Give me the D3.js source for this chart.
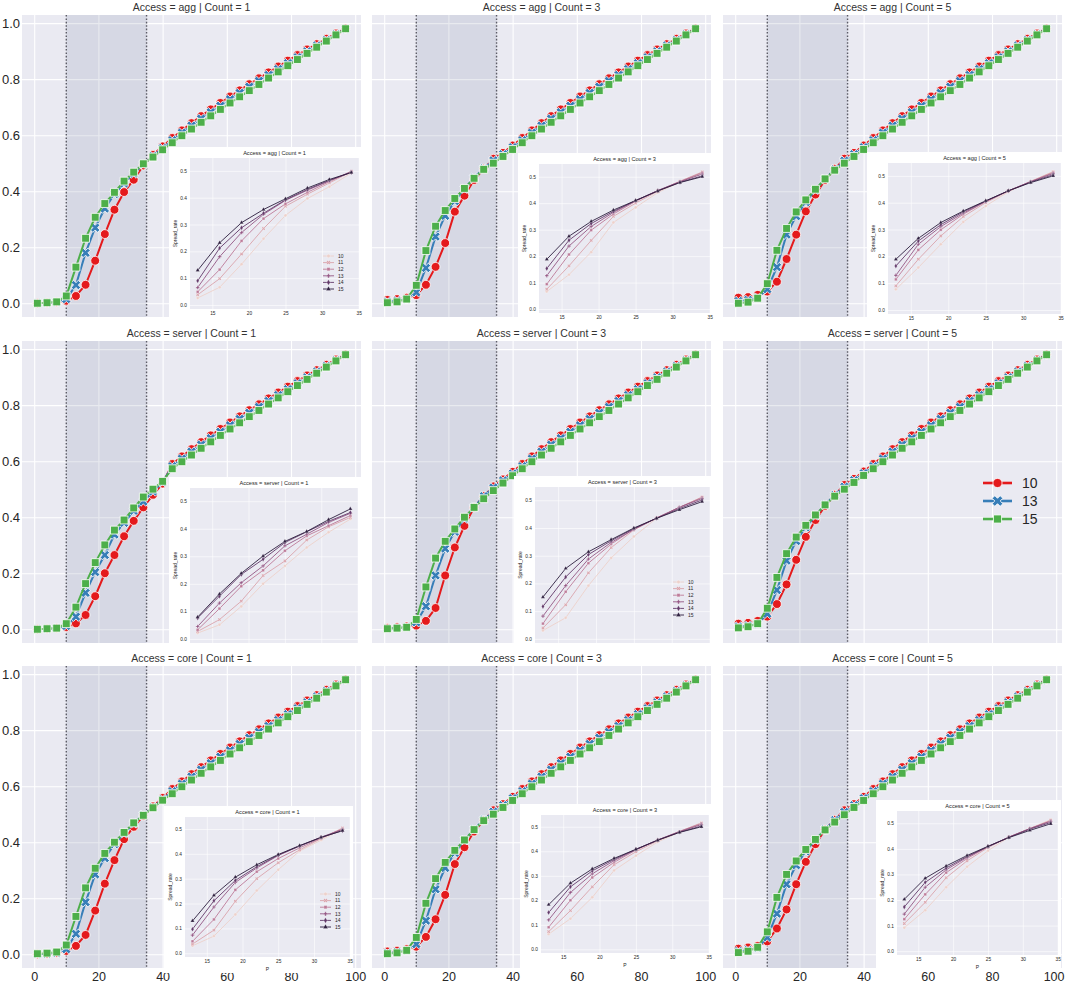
<!DOCTYPE html>
<html>
<head>
<meta charset="utf-8">
<style>
  body { margin: 0; background: #fff; }
  svg text { font-family: "Liberation Sans", Arial, sans-serif; fill: #262626; }
</style>
</head>
<body>
<div id="chart"></div>
<script src="https://d3js.org/d3.v7.min.js"></script>
<script>
// ---- data ----
var accessLevels = ['agg', 'server', 'core'];
var countLevels = [1, 3, 5];
var hueMain = [10, 13, 15];
var hueInset = [10, 11, 12, 13, 14, 15];

var xValues = [1,4,7,10,13,16,19,22,25,28,31,34,37,40,43,46,49,52,55,58,61,64,67,70,73,76,79,82,85,88,91,94,97];
var insetX = [13,16,19,22,25,28,31,34];

var xTicks = [0, 20, 40, 60, 80, 100];
var yTicks = [0, 0.2, 0.4, 0.6, 0.8, 1.0];
var insetXTicks = [15, 20, 25, 30, 35];
var insetYTicks = [0, 0.1, 0.2, 0.3, 0.4, 0.5];
var bandStart = 10, bandEnd = 35;

// x = 1 .. 40 for hue 10, 13, 15
var headAgg1    = [[0.000,0.002,0.004,0.009,0.026,0.066,0.152,0.247,0.334,0.397,0.441,0.492,0.530,0.560],
                   [0.000,0.002,0.004,0.015,0.065,0.180,0.270,0.338,0.390,0.428,0.463,0.496,0.526,0.554],
                   [0.000,0.002,0.005,0.026,0.129,0.232,0.307,0.356,0.396,0.436,0.468,0.498,0.522,0.548]];
var headAgg3    = [[0.012,0.015,0.020,0.029,0.066,0.130,0.215,0.327,0.384,0.440,0.480,0.516,0.537,0.563],
                   [0.006,0.009,0.015,0.039,0.126,0.238,0.312,0.365,0.409,0.448,0.481,0.510,0.532,0.557],
                   [0.002,0.005,0.015,0.064,0.188,0.275,0.331,0.374,0.410,0.446,0.478,0.500,0.524,0.549]];
var headAgg5    = [[0.020,0.022,0.030,0.042,0.077,0.158,0.245,0.328,0.388,0.440,0.480,0.516,0.537,0.563],
                   [0.008,0.012,0.020,0.050,0.129,0.245,0.311,0.361,0.405,0.444,0.478,0.509,0.532,0.557],
                   [0.000,0.004,0.018,0.070,0.189,0.267,0.326,0.369,0.407,0.444,0.475,0.500,0.524,0.549]];
var headServer1 = [[0.000,0.002,0.004,0.008,0.021,0.051,0.118,0.200,0.265,0.332,0.387,0.435,0.480,0.520],
                   [0.000,0.002,0.004,0.012,0.045,0.130,0.204,0.265,0.338,0.380,0.423,0.456,0.492,0.525],
                   [0.000,0.002,0.004,0.020,0.079,0.163,0.238,0.301,0.354,0.390,0.433,0.472,0.500,0.528]];
var headServer3 = [[0.005,0.007,0.010,0.013,0.030,0.076,0.192,0.292,0.369,0.435,0.475,0.510,0.535,0.562],
                   [0.003,0.005,0.008,0.025,0.082,0.192,0.288,0.348,0.395,0.436,0.475,0.506,0.531,0.556],
                   [0.002,0.004,0.007,0.035,0.151,0.254,0.314,0.358,0.400,0.435,0.466,0.495,0.522,0.548]];
var headServer5 = [[0.020,0.023,0.030,0.045,0.090,0.160,0.248,0.330,0.390,0.440,0.480,0.515,0.537,0.563],
                   [0.010,0.013,0.020,0.055,0.140,0.245,0.315,0.364,0.406,0.445,0.479,0.509,0.532,0.557],
                   [0.005,0.009,0.020,0.075,0.185,0.270,0.329,0.371,0.408,0.444,0.475,0.500,0.524,0.549]];
var headCore1   = [[0.000,0.002,0.005,0.012,0.030,0.069,0.156,0.252,0.336,0.411,0.455,0.494,0.528,0.558],
                   [0.000,0.002,0.005,0.018,0.073,0.186,0.285,0.343,0.393,0.432,0.467,0.498,0.525,0.553],
                   [0.002,0.004,0.008,0.033,0.135,0.237,0.307,0.360,0.400,0.435,0.469,0.496,0.523,0.550]];
var headCore3   = [[0.010,0.013,0.018,0.027,0.062,0.125,0.212,0.322,0.382,0.438,0.478,0.514,0.536,0.562],
                   [0.005,0.008,0.014,0.036,0.120,0.232,0.308,0.362,0.407,0.446,0.480,0.509,0.532,0.557],
                   [0.002,0.005,0.014,0.060,0.182,0.270,0.328,0.371,0.408,0.445,0.477,0.500,0.524,0.549]];
var headCore5   = [[0.020,0.024,0.030,0.046,0.092,0.160,0.250,0.330,0.393,0.445,0.480,0.514,0.536,0.562],
                   [0.011,0.015,0.023,0.060,0.145,0.250,0.318,0.367,0.408,0.446,0.479,0.508,0.532,0.557],
                   [0.006,0.011,0.025,0.080,0.203,0.285,0.333,0.374,0.410,0.444,0.472,0.498,0.524,0.549]];

// x = 43 .. 97, the same in every panel
var tail10 = [0.590,0.617,0.643,0.668,0.692,0.715,0.738,0.760,0.782,0.803,0.824,0.845,0.866,0.886,0.906,0.925,0.944,0.963,0.981];
var tail13 = [0.582,0.609,0.634,0.659,0.682,0.705,0.728,0.751,0.773,0.794,0.815,0.836,0.857,0.878,0.899,0.920,0.940,0.960,0.980];
var tail15 = [0.573,0.598,0.622,0.646,0.669,0.692,0.715,0.737,0.759,0.781,0.804,0.826,0.848,0.870,0.892,0.914,0.936,0.958,0.980];

// inset: hue 10..15 at x = 13..34
var insetAgg1 = [[0.026,0.066,0.152,0.247,0.334,0.397,0.441,0.492],
                 [0.038,0.098,0.190,0.285,0.368,0.413,0.455,0.497],
                 [0.049,0.132,0.239,0.322,0.377,0.420,0.460,0.499],
                 [0.065,0.180,0.270,0.338,0.390,0.428,0.463,0.496],
                 [0.090,0.212,0.288,0.342,0.392,0.431,0.465,0.494],
                 [0.129,0.232,0.307,0.356,0.396,0.436,0.468,0.494]];
var insetAgg3 = [[0.066,0.130,0.215,0.327,0.384,0.440,0.480,0.516],
                 [0.075,0.163,0.259,0.350,0.400,0.445,0.483,0.518],
                 [0.094,0.206,0.298,0.359,0.407,0.447,0.482,0.515],
                 [0.126,0.238,0.312,0.365,0.409,0.448,0.481,0.510],
                 [0.153,0.260,0.323,0.369,0.410,0.447,0.479,0.503],
                 [0.188,0.275,0.331,0.374,0.410,0.446,0.478,0.500]];
var insetAgg5 = [[0.077,0.158,0.245,0.328,0.388,0.440,0.480,0.516],
                 [0.090,0.189,0.276,0.348,0.400,0.443,0.479,0.515],
                 [0.114,0.224,0.299,0.357,0.404,0.444,0.479,0.512],
                 [0.129,0.245,0.311,0.361,0.405,0.444,0.478,0.509],
                 [0.164,0.257,0.318,0.366,0.406,0.444,0.477,0.504],
                 [0.189,0.267,0.326,0.369,0.407,0.444,0.475,0.500]];
var insetServer1 = [[0.021,0.051,0.118,0.200,0.265,0.332,0.387,0.435],
                    [0.027,0.070,0.137,0.230,0.283,0.359,0.407,0.441],
                    [0.033,0.110,0.191,0.249,0.320,0.374,0.411,0.448],
                    [0.045,0.130,0.204,0.265,0.338,0.380,0.423,0.456],
                    [0.076,0.155,0.234,0.289,0.350,0.389,0.427,0.459],
                    [0.079,0.163,0.238,0.301,0.354,0.390,0.433,0.472]];
var insetServer3 = [[0.030,0.076,0.192,0.292,0.369,0.435,0.475,0.510],
                    [0.039,0.123,0.238,0.329,0.393,0.436,0.474,0.512],
                    [0.055,0.170,0.273,0.342,0.396,0.436,0.474,0.510],
                    [0.082,0.192,0.288,0.348,0.395,0.436,0.475,0.506],
                    [0.117,0.223,0.304,0.354,0.398,0.435,0.470,0.501],
                    [0.151,0.254,0.314,0.358,0.400,0.435,0.466,0.495]];
var insetCore1 = [[0.030,0.069,0.156,0.252,0.336,0.411,0.455,0.500],
                  [0.037,0.093,0.209,0.300,0.364,0.416,0.461,0.504],
                  [0.048,0.136,0.255,0.328,0.381,0.424,0.463,0.500],
                  [0.073,0.186,0.285,0.343,0.393,0.432,0.467,0.498],
                  [0.097,0.211,0.293,0.348,0.395,0.431,0.466,0.493],
                  [0.130,0.233,0.306,0.356,0.397,0.433,0.466,0.493]];
var insetCore3 = [[0.062,0.125,0.212,0.322,0.382,0.438,0.478,0.514],
                  [0.072,0.158,0.255,0.345,0.398,0.443,0.481,0.516],
                  [0.090,0.200,0.293,0.355,0.405,0.446,0.481,0.513],
                  [0.120,0.232,0.308,0.362,0.407,0.446,0.480,0.509],
                  [0.150,0.255,0.320,0.367,0.408,0.446,0.478,0.503],
                  [0.182,0.270,0.328,0.371,0.408,0.445,0.477,0.500]];
var insetCore5 = [[0.092,0.160,0.250,0.330,0.393,0.445,0.480,0.514],
                  [0.108,0.191,0.287,0.353,0.405,0.446,0.479,0.512],
                  [0.125,0.222,0.307,0.362,0.408,0.446,0.479,0.509],
                  [0.145,0.250,0.318,0.367,0.408,0.446,0.479,0.508],
                  [0.173,0.269,0.325,0.370,0.409,0.445,0.477,0.503],
                  [0.203,0.285,0.333,0.374,0.410,0.444,0.472,0.498]];

var mainHeads = [headAgg1, headAgg3, headAgg5, headServer1, headServer3, headServer5, headCore1, headCore3, headCore5];
var mainTails = [tail10, tail13, tail15];
var insetData = [insetAgg1, insetAgg3, insetAgg5, insetServer1, insetServer3, null, insetCore1, insetCore3, insetCore5];

// ---- layout ----
var W = 1065, H = 984;
var colLeft = [22, 372, 723], panelW = 339;
var rowTop = [15, 341, 666], panelH = 302;
var xDomain = [-3.8, 101.8], yDomain = [-0.049, 1.029];
var insetXDomain = [11.95, 35.05], insetYDomain = [-0.015, 0.548];
// gray plot area of each inset [x0, y0, x1, y1]
var insetBoxes = [[190,158,359,309], [539,164,710,313], [888,163,1061,314],
                  [190,488,358,643], [535,487,710,643], null,
                  [185,817,350,957], [541,815,709,953], [897,811,1058,955]];
var insetLegendPos = [[323,256], null, null, null, [673,582], null, [320,894], null, null];

var mainColors = ['#e41a1c', '#377eb8', '#4daf4a'];
var insetColors = ['#edd1cb', '#daa4ac', '#bd7a98', '#945785', '#633a6a', '#2d1e3e'];
var mainSymbols = [d3.symbolCircle, d3.symbolCross, d3.symbolSquare];
var mainRotate = [0, 45, 0];
var mainSizes = [62, 56, 62];
var insetSymbols = [d3.symbolCircle, d3.symbolCross, d3.symbolSquare, d3.symbolCross, d3.symbolDiamond, d3.symbolTriangle];
var insetRotate = [0, 45, 0, 0, 0, 0];

var svg = d3.select('#chart').append('svg')
  .attr('width', W)
  .attr('height', H);
svg.append('rect').attr('width', W).attr('height', H).attr('fill', '#fff');

function drawPanel(r, c) {
  var idx = r * 3 + c;
  var x0 = colLeft[c], y0 = rowTop[r];
  var x = d3.scaleLinear().domain(xDomain).range([x0, x0 + panelW]);
  var y = d3.scaleLinear().domain(yDomain).range([y0 + panelH, y0]);
  var g = svg.append('g');

  g.append('rect')
    .attr('x', x0).attr('y', y0)
    .attr('width', panelW).attr('height', panelH)
    .attr('fill', '#eaeaf2');

  // grid
  var gx = g.append('g').attr('transform', 'translate(0,' + (y0 + panelH) + ')')
    .call(d3.axisBottom(x).tickValues(xTicks).tickSize(-panelH).tickFormat(''));
  var gy = g.append('g').attr('transform', 'translate(' + x0 + ',0)')
    .call(d3.axisLeft(y).tickValues(yTicks).tickSize(-panelW).tickFormat(''));
  [gx, gy].forEach(function(a) {
    a.select('.domain').remove();
    a.selectAll('line').attr('stroke', '#fff').attr('stroke-width', 1.1);
  });

  // shaded band + dotted edges
  g.append('rect')
    .attr('x', x(bandStart)).attr('y', y0)
    .attr('width', x(bandEnd) - x(bandStart)).attr('height', panelH)
    .attr('fill', '#6e7f9c').attr('fill-opacity', 0.16);
  g.selectAll('.edge').data([bandStart, bandEnd]).join('line')
    .attr('x1', function(d) { return x(d); }).attr('x2', function(d) { return x(d); })
    .attr('y1', y0).attr('y2', y0 + panelH)
    .attr('stroke', '#5c5c66').attr('stroke-width', 1.4)
    .attr('stroke-dasharray', '1.6,1.8');

  // series
  var line = d3.line().x(function(d) { return x(d[0]); }).y(function(d) { return y(d[1]); });
  hueMain.forEach(function(h, i) {
    var vals = mainHeads[idx][i].concat(mainTails[i]);
    var pts = xValues.map(function(xv, j) { return [xv, vals[j]]; });
    g.append('path').datum(pts)
      .attr('d', line).attr('fill', 'none')
      .attr('stroke', mainColors[i]).attr('stroke-width', 2);
    g.selectAll('.m' + i).data(pts).join('path')
      .attr('d', d3.symbol().type(mainSymbols[i]).size(mainSizes[i]))
      .attr('transform', function(d) { return 'translate(' + x(d[0]) + ',' + y(d[1]) + ') rotate(' + mainRotate[i] + ')'; })
      .attr('fill', mainColors[i]).attr('stroke', '#fff').attr('stroke-width', 0.8);
  });

  // title
  g.append('text')
    .attr('x', x0 + panelW / 2).attr('y', y0 - 4)
    .attr('text-anchor', 'middle').attr('font-size', 10.5)
    .style('fill', '#333')
    .text('Access = ' + accessLevels[r] + ' | Count = ' + countLevels[c]);

  if (c === 0) {
    var ay = g.append('g').attr('transform', 'translate(' + x0 + ',0)')
      .call(d3.axisLeft(y).tickValues(yTicks).tickSize(0).tickPadding(2).tickFormat(d3.format('.1f')));
    ay.select('.domain').remove();
    ay.selectAll('text').attr('font-size', 13).attr('font-family', null).style('fill', '#262626');
  }
  if (r === 2) {
    var ax = g.append('g').attr('transform', 'translate(0,' + (y0 + panelH) + ')')
      .call(d3.axisBottom(x).tickValues(xTicks).tickSize(0).tickPadding(4));
    ax.select('.domain').remove();
    ax.selectAll('text').attr('font-size', 12.5).attr('font-family', null).style('fill', '#262626')
      .each(function(d) {
        // keep the last label inside the page
        var over = x(d) + this.getComputedTextLength() / 2 - (W - 1);
        if (over > 0) d3.select(this).attr('dx', -over);
      });
  }
}

function drawInset(r, c) {
  var idx = r * 3 + c;
  var box = insetBoxes[idx];
  if (!box) return;
  var gx0 = box[0], gy0 = box[1], gx1 = box[2], gy1 = box[3];
  var g = svg.append('g');
  var padBottom = r === 2 ? 16 : (r === 0 ? 12 : 3);

  g.append('rect')
    .attr('x', gx0 - 21).attr('y', gy0 - 11)
    .attr('width', Math.min(gx1 + 3, W) - (gx0 - 21))
    .attr('height', gy1 + padBottom - (gy0 - 11))
    .attr('fill', '#fff');
  g.append('rect')
    .attr('x', gx0).attr('y', gy0)
    .attr('width', gx1 - gx0).attr('height', gy1 - gy0)
    .attr('fill', '#eaeaf2');

  var x = d3.scaleLinear().domain(insetXDomain).range([gx0, gx1]);
  var y = d3.scaleLinear().domain(insetYDomain).range([gy1, gy0]);

  var gridX = g.append('g').attr('transform', 'translate(0,' + gy1 + ')')
    .call(d3.axisBottom(x).tickValues(insetXTicks).tickSize(-(gy1 - gy0)).tickFormat(''));
  var gridY = g.append('g').attr('transform', 'translate(' + gx0 + ',0)')
    .call(d3.axisLeft(y).tickValues(insetYTicks).tickSize(-(gx1 - gx0)).tickFormat(''));
  [gridX, gridY].forEach(function(a) {
    a.select('.domain').remove();
    a.selectAll('line').attr('stroke', '#fff').attr('stroke-width', 0.6);
  });

  var line = d3.line().x(function(d) { return x(d[0]); }).y(function(d) { return y(d[1]); });
  hueInset.forEach(function(h, i) {
    var pts = insetX.map(function(xv, j) { return [xv, insetData[idx][i][j]]; });
    g.append('path').datum(pts)
      .attr('d', line).attr('fill', 'none')
      .attr('stroke', insetColors[i]).attr('stroke-width', 0.9);
    g.selectAll('.im' + i).data(pts).join('path')
      .attr('d', d3.symbol().type(insetSymbols[i]).size(7))
      .attr('transform', function(d) { return 'translate(' + x(d[0]) + ',' + y(d[1]) + ') rotate(' + insetRotate[i] + ')'; })
      .attr('fill', insetColors[i]).attr('stroke', '#fff').attr('stroke-width', 0.25);
  });

  // ticks
  var ay = g.append('g').attr('transform', 'translate(' + gx0 + ',0)')
    .call(d3.axisLeft(y).tickValues(insetYTicks).tickSize(0).tickPadding(3).tickFormat(d3.format('.1f')));
  ay.select('.domain').remove();
  ay.selectAll('text').attr('font-size', 4.8).attr('font-family', null).style('fill', '#262626');
  if (r !== 1) {
    var ax = g.append('g').attr('transform', 'translate(0,' + gy1 + ')')
      .call(d3.axisBottom(x).tickValues(insetXTicks).tickSize(0).tickPadding(2.5));
    ax.select('.domain').remove();
    ax.selectAll('text').attr('font-size', 4.8).attr('font-family', null).style('fill', '#262626');
  }

  g.append('text')
    .attr('x', (gx0 + gx1) / 2).attr('y', gy0 - 3.5)
    .attr('text-anchor', 'middle').attr('font-size', 5.6)
    .text('Access = ' + accessLevels[r] + ' | Count = ' + countLevels[c]);
  g.append('text')
    .attr('transform', 'translate(' + (gx0 - 13) + ',' + ((gy0 + gy1) / 2) + ') rotate(-90)')
    .attr('text-anchor', 'middle').attr('font-size', 5)
    .text('Spread_rate');
  if (r === 2) {
    g.append('text')
      .attr('x', (gx0 + gx1) / 2).attr('y', gy1 + 14)
      .attr('text-anchor', 'middle').attr('font-size', 5)
      .text('P');
  }

  var lp = insetLegendPos[idx];
  if (lp) {
    var lg = g.append('g');
    hueInset.forEach(function(h, i) {
      var ly = lp[1] + i * 6.6;
      lg.append('line')
        .attr('x1', lp[0]).attr('x2', lp[0] + 11)
        .attr('y1', ly).attr('y2', ly)
        .attr('stroke', insetColors[i]).attr('stroke-width', 0.9);
      lg.append('path')
        .attr('d', d3.symbol().type(insetSymbols[i]).size(10)())
        .attr('transform', 'translate(' + (lp[0] + 5.5) + ',' + ly + ') rotate(' + insetRotate[i] + ')')
        .attr('fill', insetColors[i]).attr('stroke', '#fff').attr('stroke-width', 0.25);
      lg.append('text')
        .attr('x', lp[0] + 15).attr('y', ly).attr('dy', '0.35em')
        .attr('font-size', 5).text(h);
    });
  }
}

for (var r = 0; r < 3; r++) {
  for (var c = 0; c < 3; c++) {
    drawPanel(r, c);
    drawInset(r, c);
  }
}

// main legend
var legendX = 983, legendY = [483, 501, 519];
hueMain.forEach(function(h, i) {
  svg.append('line')
    .attr('x1', legendX).attr('x2', legendX + 29)
    .attr('y1', legendY[i]).attr('y2', legendY[i])
    .attr('stroke', mainColors[i]).attr('stroke-width', 2.6);
  svg.append('path')
    .attr('d', d3.symbol().type(mainSymbols[i]).size(i === 1 ? 72 : 66)())
    .attr('transform', 'translate(' + (legendX + 14.5) + ',' + legendY[i] + ') rotate(' + mainRotate[i] + ')')
    .attr('fill', mainColors[i]).attr('stroke', '#fff').attr('stroke-width', 0.8);
  svg.append('text')
    .attr('x', legendX + 39).attr('y', legendY[i]).attr('dy', '0.36em')
    .attr('font-size', 14).text(h);
});
</script>
</body>
</html>
